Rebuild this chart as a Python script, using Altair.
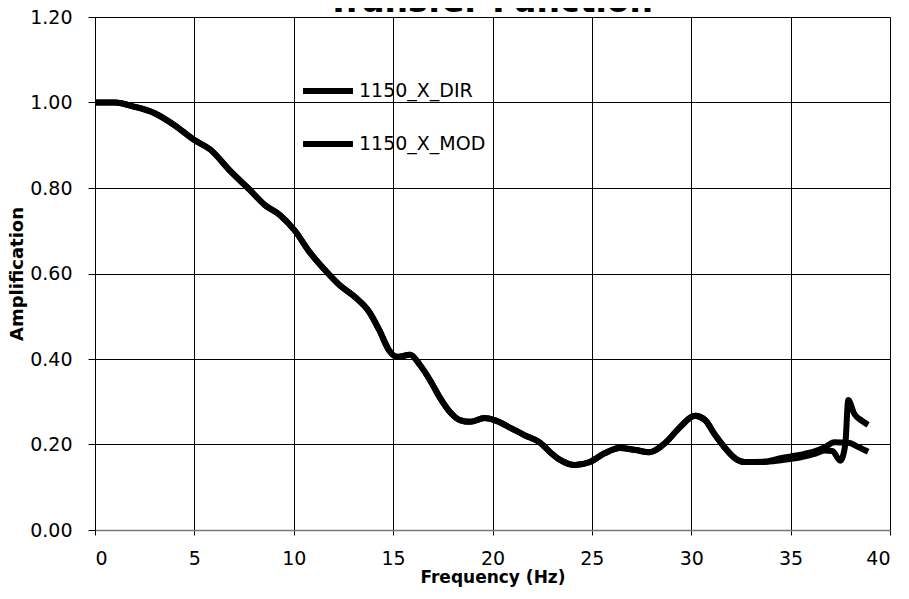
import altair as alt
import pandas as pd

# Series data
freq_dir = [0, 1, 2, 3, 4, 5, 5.8, 6.8, 7.8, 8.55, 9.3, 10.06, 10.8, 11.57, 12.3,
            13.08, 13.8, 14.3, 14.8, 15.2, 15.85, 16.35, 16.85, 17.36, 17.86, 18.36,
            18.87, 19.6, 20.1, 20.9, 21.6, 22.4, 22.9, 23.4, 24.15, 24.9, 25.66, 26.4,
            27.2, 27.9, 28.7, 29.4, 30.2, 30.7, 31.2, 31.7, 32.2, 32.7, 33.7, 34.5,
            35.5, 36.2, 36.7, 37.1, 37.5, 37.75, 37.9, 38.2, 38.6, 38.9]
amp_dir = [1.00, 1.00, 0.99, 0.975, 0.947, 0.912, 0.89, 0.84, 0.795, 0.76, 0.737,
           0.70, 0.65, 0.608, 0.573, 0.545, 0.51, 0.468, 0.42, 0.405, 0.41, 0.386,
           0.351, 0.309, 0.276, 0.257, 0.253, 0.262, 0.257, 0.239, 0.222, 0.204,
           0.182, 0.164, 0.152, 0.159, 0.18, 0.192, 0.187, 0.182, 0.204, 0.239,
           0.267, 0.257, 0.222, 0.192, 0.168, 0.159, 0.159, 0.163, 0.170, 0.178,
           0.186, 0.185, 0.162, 0.20, 0.304, 0.272, 0.255, 0.246]

freq_mod = [0, 1, 2, 3, 4, 5, 5.8, 6.8, 7.8, 8.55, 9.3, 10.06, 10.8, 11.57, 12.3,
            13.08, 13.8, 14.3, 14.8, 15.2, 15.85, 16.35, 16.85, 17.36, 17.86, 18.36,
            18.87, 19.6, 20.1, 20.9, 21.6, 22.4, 22.9, 23.4, 24.15, 24.9, 25.66, 26.4,
            27.2, 27.9, 28.7, 29.4, 30.2, 30.7, 31.2, 31.7, 32.2, 32.7, 33.7, 34.5,
            35.5, 36.2, 36.7, 37.2, 37.9, 38.4, 38.9]
amp_mod = [1.00, 1.00, 0.99, 0.975, 0.947, 0.912, 0.89, 0.84, 0.795, 0.76, 0.737,
           0.70, 0.65, 0.608, 0.573, 0.545, 0.51, 0.468, 0.42, 0.405, 0.41, 0.386,
           0.351, 0.309, 0.276, 0.257, 0.253, 0.262, 0.257, 0.239, 0.222, 0.204,
           0.182, 0.164, 0.152, 0.159, 0.18, 0.192, 0.187, 0.182, 0.204, 0.239,
           0.267, 0.257, 0.222, 0.192, 0.168, 0.159, 0.160, 0.168, 0.176, 0.184,
           0.193, 0.205, 0.204, 0.194, 0.183]

series_names = ["1150_X_DIR", "1150_X_MOD"]
x_ticks = [0, 5, 10, 15, 20, 25, 30, 35, 40]
y_ticks = [0.0, 0.2, 0.4, 0.6, 0.8, 1.0, 1.2]
title_text = "Transfer Function"

rows = []
for f, a in zip(freq_dir, amp_dir):
    rows.append({"freq": f, "amp": a, "series": series_names[0]})
for f, a in zip(freq_mod, amp_mod):
    rows.append({"freq": f, "amp": a, "series": series_names[1]})
df = pd.DataFrame(rows)

FONT = "DejaVu Sans"

lines = alt.Chart(df).mark_line(strokeWidth=6, interpolate="monotone").encode(
    x=alt.X("freq:Q", scale=alt.Scale(domain=[0, 40], nice=False),
            axis=alt.Axis(values=x_ticks, title="Frequency (Hz)", format="d",
                          grid=True, gridColor="#000", gridWidth=1,
                          domainColor="#777", domainWidth=1.5,
                          tickColor="#000", tickSize=5,
                          labelFont=FONT, labelFontSize=19, labelColor="#000",
                          labelPadding=14,
                          titleFont=FONT, titleFontSize=17, titleFontWeight="bold",
                          titleColor="#000", titlePadding=1)),
    y=alt.Y("amp:Q", scale=alt.Scale(domain=[0, 1.2], nice=False),
            axis=alt.Axis(values=y_ticks, title="Amplification", format=".2f",
                          grid=True, gridColor="#000", gridWidth=1,
                          domainColor="#000", domainWidth=1,
                          tickColor="#000", tickSize=7,
                          labelFont=FONT, labelFontSize=19, labelColor="#000",
                          labelPadding=16,
                          titleFont=FONT, titleFontSize=18, titleFontWeight="bold",
                          titleColor="#000", titlePadding=3)),
    color=alt.Color("series:N", sort=series_names,
                    scale=alt.Scale(domain=series_names, range=["#000", "#000"]),
                    legend=alt.Legend(title=None, orient="none", legendX=205, legendY=46,
                                      symbolType="stroke", symbolSize=2500,
                                      symbolStrokeWidth=6, rowPadding=13,
                                      labelFont=FONT, labelFontSize=19,
                                      labelColor="#000", labelOffset=3)),
    detail="series:N",
)

title_df = pd.DataFrame({"t": [title_text]})
title = alt.Chart(title_df).mark_text(
    font=FONT, fontSize=33, fontWeight="bold", color="#000",
    baseline="alphabetic", align="center"
).encode(
    text="t:N",
    x=alt.value(395),
    y=alt.value(-5),
)

chart = alt.layer(lines, title).properties(
    width=795, height=513,
    autosize=alt.AutoSizeParams(type="none"),
    padding={"left": 87, "top": 9, "right": 11, "bottom": 61},
).configure_view(strokeWidth=0).configure(background="white")

chart.save("out.html", embed_options={"renderer": "svg", "actions": False})
